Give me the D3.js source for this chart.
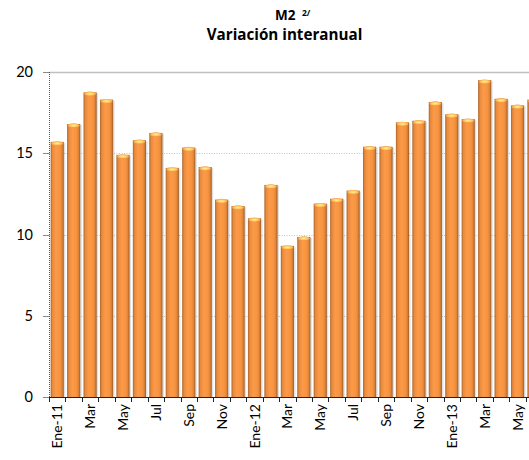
<!DOCTYPE html>
<html>
<head>
<meta charset="utf-8">
<script src="https://cdn.jsdelivr.net/npm/d3@7"></script>
<style>
  body { margin: 0; background: #fff; }
  svg { display: block; font-family: Lato, "Open Sans", sans-serif; }
</style>
</head>
<body>
<svg width="529" height="460"></svg>
<script>
// monthly labels, Ene-11 .. Jun-13
const months = ["Ene-11","Feb-11","Mar-11","Abr-11","May-11","Jun-11","Jul-11","Ago-11","Sep-11","Oct-11","Nov-11","Dic-11",
                "Ene-12","Feb-12","Mar-12","Abr-12","May-12","Jun-12","Jul-12","Ago-12","Sep-12","Oct-12","Nov-12","Dic-12",
                "Ene-13","Feb-13","Mar-13","Abr-13","May-13","Jun-13"];
const tickLabels = ["Ene-11","Mar","May","Jul","Sep","Nov","Ene-12","Mar","May","Jul","Sep","Nov","Ene-13","Mar","May"];
const values = [15.7, 16.8, 18.75, 18.3, 14.9, 15.8, 16.25, 14.1, 15.35, 14.15, 12.15, 11.75,
                11.0, 13.05, 9.3, 9.85, 11.9, 12.2, 12.7, 15.4, 15.4, 16.9, 17.0, 18.15,
                17.4, 17.1, 19.5, 18.35, 17.95, 18.3];
const yTicks = [0, 5, 10, 15, 20];

var svg = d3.select("svg");
var width = +svg.attr("width");

const plotLeft = 49, plotTop = 72, plotBottom = 397;
const step = 16.44;

const x = d3.scaleBand()
    .domain(months)
    .range([plotLeft, plotLeft + months.length * step])
    .paddingInner(0.2)
    .paddingOuter(0.1);

const y = d3.scaleLinear().domain([0, 20]).range([plotBottom, plotTop]);

// gradients for the bar look
const defs = svg.append("defs");
const grad = defs.append("linearGradient").attr("id", "barGrad")
    .attr("x1", "0%").attr("x2", "100%").attr("y1", "0%").attr("y2", "0%");
[["0%", "#a9652e"], ["14%", "#e98a3c"], ["40%", "#fb9a48"], ["70%", "#f79441"], ["86%", "#e28537"], ["100%", "#9a5c29"]]
    .forEach(s => grad.append("stop").attr("offset", s[0]).attr("stop-color", s[1]));
const capGrad = defs.append("radialGradient").attr("id", "capGrad");
capGrad.append("stop").attr("offset", "0%").attr("stop-color", "#fff2a0");
capGrad.append("stop").attr("offset", "60%").attr("stop-color", "#ffc860");
capGrad.append("stop").attr("offset", "100%").attr("stop-color", "#f59a44");

// gridlines
svg.append("g")
    .selectAll("line")
    .data(yTicks.filter(d => d > 0))
    .enter()
    .append("line")
    .attr("x1", plotLeft).attr("x2", width)
    .attr("y1", d => Math.round(y(d)) + 0.5).attr("y2", d => Math.round(y(d)) + 0.5)
    .attr("stroke", d => d === 20 ? "#c0c0c0" : "#c4c4c4")
    .attr("stroke-width", d => d === 20 ? 1.5 : 1)
    .attr("stroke-dasharray", d => d === 20 ? null : "1,1.5");

// bar shadows
svg.append("g")
    .selectAll("rect")
    .data(values)
    .enter()
    .append("rect")
    .attr("x", (d, i) => x(months[i]) + 1.5)
    .attr("y", d => y(d) + 1)
    .attr("width", x.bandwidth())
    .attr("height", d => plotBottom - y(d) - 1)
    .attr("fill", "#000")
    .attr("opacity", 0.12);

// bars
svg.append("g")
    .selectAll("rect")
    .data(values)
    .enter()
    .append("rect")
    .attr("x", (d, i) => x(months[i]))
    .attr("y", d => y(d))
    .attr("width", x.bandwidth())
    .attr("height", d => plotBottom - y(d))
    .attr("fill", "url(#barGrad)");

// top caps
svg.append("g")
    .selectAll("ellipse")
    .data(values)
    .enter()
    .append("ellipse")
    .attr("cx", (d, i) => x(months[i]) + x.bandwidth() / 2)
    .attr("cy", d => y(d) + 1.5)
    .attr("rx", x.bandwidth() / 2 - 0.5)
    .attr("ry", 2.2)
    .attr("fill", "url(#capGrad)");

// y axis line (dotted)
svg.append("line")
    .attr("x1", plotLeft + 0.5).attr("x2", plotLeft + 0.5)
    .attr("y1", plotTop).attr("y2", plotBottom)
    .attr("stroke", "#555").attr("stroke-dasharray", "1,1");

// y ticks + labels
const yg = svg.append("g");
yg.selectAll("line")
    .data(yTicks)
    .enter()
    .append("line")
    .attr("x1", plotLeft - 6).attr("x2", plotLeft)
    .attr("y1", d => Math.round(y(d)) + 0.5).attr("y2", d => Math.round(y(d)) + 0.5)
    .attr("stroke", "#888");
yg.selectAll("text")
    .data(yTicks)
    .enter()
    .append("text")
    .attr("x", 33)
    .attr("y", d => y(d) + 5)
    .attr("text-anchor", "end")
    .attr("font-size", 14.5)
    .attr("fill", "#000")
    .text(d => d);

// x axis
svg.append("line")
    .attr("x1", plotLeft).attr("x2", width)
    .attr("y1", plotBottom + 0.5).attr("y2", plotBottom + 0.5)
    .attr("stroke", "#222");
const bounds = d3.range(months.length + 1).map(i => plotLeft + i * step);
svg.append("g")
    .selectAll("line")
    .data(bounds)
    .enter()
    .append("line")
    .attr("x1", d => Math.round(d) + 0.5).attr("x2", d => Math.round(d) + 0.5)
    .attr("y1", plotBottom).attr("y2", plotBottom + 5)
    .attr("stroke", "#222");

svg.append("g")
    .selectAll("text")
    .data(tickLabels)
    .enter()
    .append("text")
    .attr("transform", (d, i) => {
        const cx = x(months[i * 2]) + x.bandwidth() / 2 + 5;
        return `translate(${cx},${plotBottom + 7}) rotate(-90)`;
    })
    .attr("text-anchor", "end")
    .attr("font-size", 14)
    .attr("fill", "#000")
    .text(d => d);

// title
const title = svg.append("g")
    .attr("font-family", "'Open Sans', sans-serif")
    .attr("font-weight", "bold");
title.append("text")
    .attr("x", 275).attr("y", 19.5)
    .attr("font-size", 13.5)
    .text("M2");
title.append("text")
    .attr("x", 302).attr("y", 15.5)
    .attr("font-size", 8.5)
    .text("2/");
title.append("text")
    .attr("x", 284.5).attr("y", 39.5)
    .attr("text-anchor", "middle")
    .attr("font-size", 15.2)
    .text("Variación interanual");
</script>
</body>
</html>
